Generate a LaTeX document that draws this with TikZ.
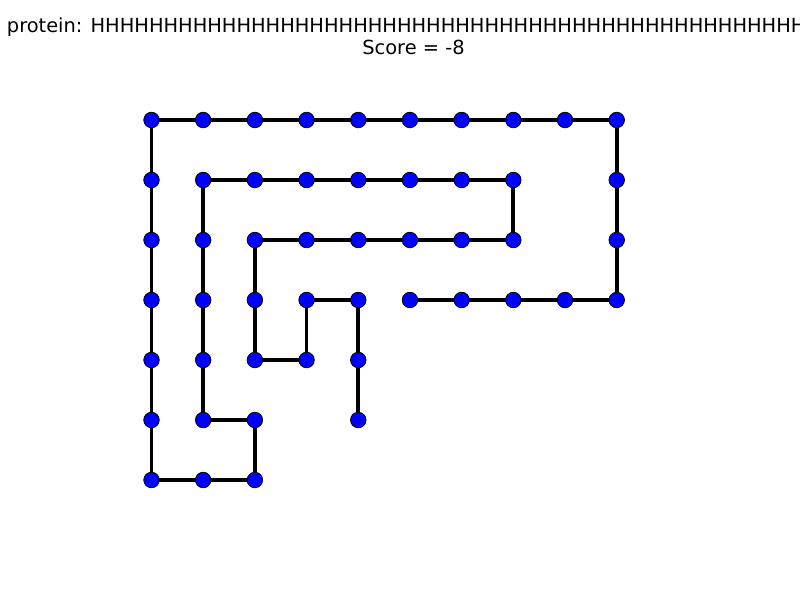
\documentclass[tikz,border=0pt]{standalone}
\usepackage{fontspec}
\setmainfont{DejaVu Sans}
\begin{document}
\begin{tikzpicture}[x=1pt,y=-1pt,
  bead/.style={circle,draw=black,fill=blue,line width=0.8pt,minimum size=15.5pt,inner sep=0pt},
  bond/.style={line width=3.8pt,black},
  ttl/.style={anchor=base,inner sep=0pt,font=\fontsize{19.4}{23}\selectfont}]
\useasboundingbox (0,0) rectangle (800,600);
\clip (0,0) rectangle (800,600);
\fill[white] (0,0) rectangle (800,600);
\foreach [count=\i] \gx/\gy in {5/3,6/3,7/3,8/3,9/3,9/2,9/1,9/0,8/0,7/0,6/0,5/0,4/0,3/0,2/0,1/0,0/0,0/1,0/2,0/3,0/4,0/5,0/6,1/6,2/6,2/5,1/5,1/4,1/3,1/2,1/1,2/1,3/1,4/1,5/1,6/1,7/1,7/2,6/2,5/2,4/2,3/2,2/2,2/3,2/4,3/4,3/3,4/3,4/4,4/5}
  {\coordinate (c\i) at ({151.5+51.69*\gx},{120+60*\gy});}
\foreach \i [evaluate=\i as \j using int(\i+1)] in {1,...,49}
  {\draw[bond] (c\i) -- (c\j);}
\foreach \i in {1,...,50}
  {\node[bead] (n\i) at (c\i) {};}
\node[ttl] (t1) at (413.5,32.5) {protein: HHHHHHHHHHHHHHHHHHHHHHHHHHHHHHHHHHHHHHHHHHHHHHHHHH};
\node[ttl] (t2) at (413.5,54) {Score = -8};
\end{tikzpicture}
\end{document}
